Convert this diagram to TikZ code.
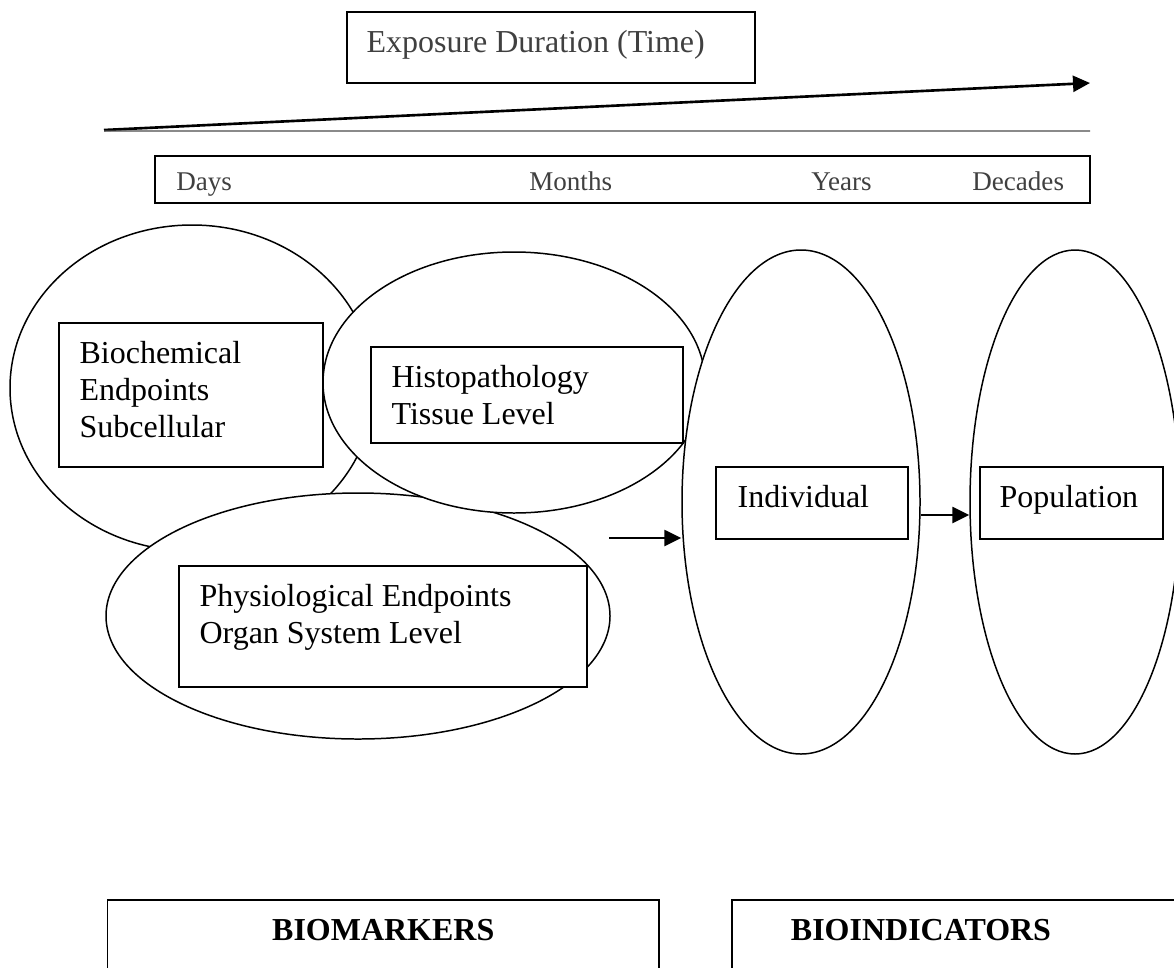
\documentclass[tikz,border=0pt]{standalone}
\usepackage{fontspec}
\setmainfont{Liberation Serif}
\usetikzlibrary{positioning,shapes.geometric,arrows.meta,calc}

\begin{document}
\begin{tikzpicture}[
  font=\fontsize{18.2}{21.1}\selectfont,
  blob/.style    = {draw, ellipse, fill=white, inner sep=0pt, line width=0.85pt},
  tbox/.style    = {draw, rectangle, fill=white, inner sep=0pt, line width=0.85pt},
  lbl/.style     = {inner sep=0pt, align=left, anchor=north west},
  tick/.style    = {inner sep=0pt, anchor=base west, text=black!75,
                    font=\fontsize{15.4}{18}\selectfont},
  heading/.style = {inner sep=0pt, anchor=base, font=\fontsize{18.2}{21.1}\selectfont\bfseries},
  arrow/.style   = {-{Triangle[length=0.34cm, width=0.32cm]}, line width=1.5pt},
]

\useasboundingbox (0,0) rectangle (23.48,-19.34);
\clip (0,0) rectangle (23.48,-19.34);

% ===== Time axis (top) =====
\node[tbox, minimum width=8.16cm, minimum height=1.42cm] (expo) at (11.02,-0.95) {};
\node[lbl, text=black!75] (expoT) at ($(expo.north west)+(0.40,-0.38)$)
      {Exposure Duration (Time)};

\coordinate (tStart) at (2.08,-2.60);
\coordinate (tEnd)   at (21.80,-1.66);
\coordinate (hEnd)   at (21.80,-2.62);
\draw[arrow] (tStart) -- (tEnd);
\draw[line width=0.7pt, black!70] ($(tStart)+(0,-0.02)$) -- (hEnd);

\node[tbox, minimum width=18.7cm, minimum height=0.94cm] (scale) at (12.45,-3.59) {};
\node[tick] (days)    at (3.52,-3.80)  {Days};
\node[tick] (months)  at (10.58,-3.80) {Months};
\node[tick] (years)   at (16.22,-3.80) {Years};
\node[tick] (decades) at (19.44,-3.80) {Decades};

% ===== Biomarker levels: overlapping ellipses =====
\node[blob, minimum width=7.28cm, minimum height=6.52cm] (bioE)  at (3.84,-7.76)  {};
\node[blob, minimum width=10.08cm, minimum height=4.92cm] (physE) at (7.16,-12.32) {};
\node[blob, minimum width=7.64cm, minimum height=5.22cm] (histE) at (10.28,-7.65) {};

\node[tbox, minimum width=5.28cm, minimum height=2.88cm] (bioB) at (3.82,-7.90) {};
\node[lbl] (bioT) at ($(bioB.north west)+(0.42,-0.37)$)
      {Biochemical\\Endpoints\\Subcellular};

\node[tbox, minimum width=6.24cm, minimum height=1.92cm] (histB) at (10.54,-7.90) {};
\node[lbl] (histT) at ($(histB.north west)+(0.42,-0.37)$)
      {Histopathology\\Tissue Level};

\node[tbox, minimum width=8.16cm, minimum height=2.42cm] (physB) at (7.66,-12.53) {};
\node[lbl] (physT) at ($(physB.north west)+(0.42,-0.37)$)
      {Physiological Endpoints\\Organ System Level};

% ===== Bioindicator levels =====
\node[blob, minimum width=4.76cm, minimum height=10.08cm] (indE) at (16.02,-10.04) {};
\node[blob, minimum width=4.20cm, minimum height=10.08cm] (popE) at (21.50,-10.04) {};

\node[tbox, minimum width=3.84cm, minimum height=1.44cm] (indB) at (16.24,-10.06) {};
\node[lbl] (indT) at ($(indB.north west)+(0.44,-0.38)$) {Individual};

\node[tbox, minimum width=3.66cm, minimum height=1.44cm] (popB) at (21.43,-10.06) {};
\node[lbl] (popT) at ($(popB.north west)+(0.40,-0.38)$) {Population};

% ===== Arrows between levels =====
\coordinate (inTail) at (12.18,-10.76);
\draw[arrow] (inTail) -- (inTail -| indE.west);
\draw[arrow] ($(indE.east)+(0,-0.26)$) -- ($(popE.west)+(0,-0.26)$);

% ===== Bottom headings (cut by the page edge) =====
\node[tbox, anchor=north west, minimum width=11.02cm, minimum height=2.4cm]
      (bmk) at (2.14,-17.98) {};
\node[heading] (bmkT) at ($(bmk.north)+(0,-0.82)$) {BIOMARKERS};

\node[tbox, anchor=north west, minimum width=9.6cm, minimum height=2.4cm]
      (bind) at (14.62,-17.98) {};
\node[heading] (bindT) at ($(bind.north west)+(3.80,-0.82)$) {BIOINDICATORS};

\end{tikzpicture}
\end{document}
